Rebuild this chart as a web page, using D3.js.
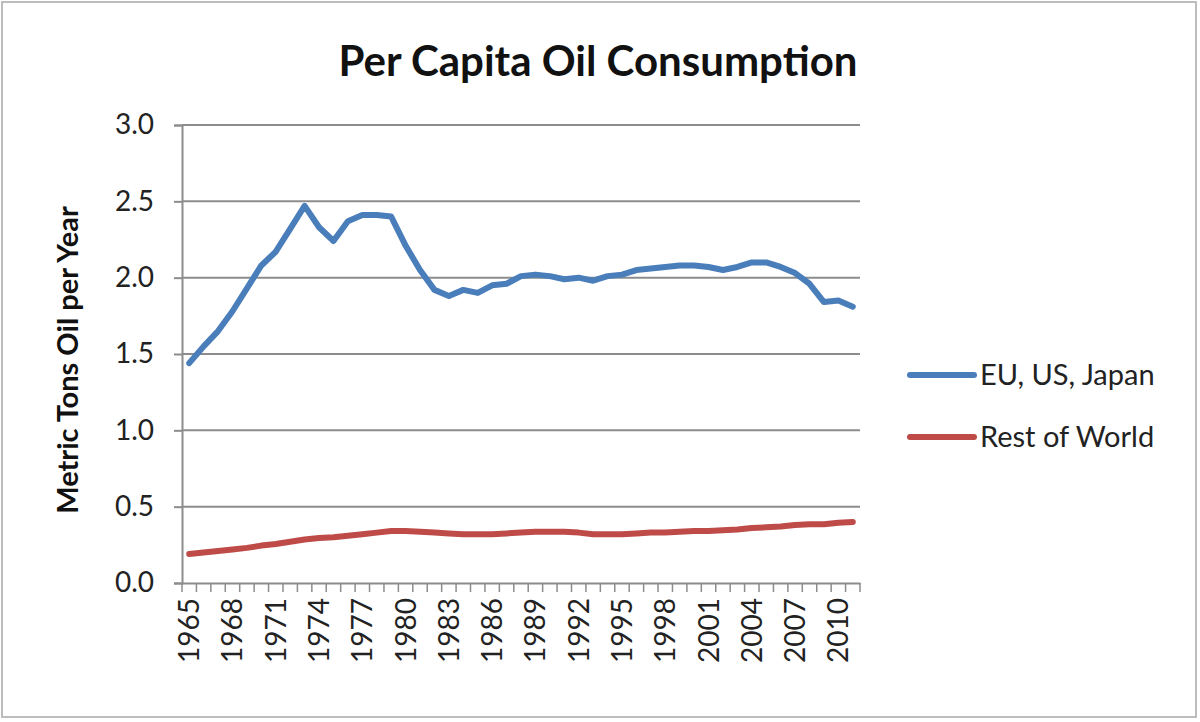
<!DOCTYPE html>
<html>
<head>
<meta charset="utf-8">
<script src="https://cdn.jsdelivr.net/npm/d3@7"></script>
<style>
  body { margin: 0; background: #fff; }
  svg { display: block; }
</style>
</head>
<body>
<svg id="chart" width="1200" height="722"></svg>
<script>
const years = d3.range(1965, 2012)
const euUsJapan = [1.44, 1.55, 1.65, 1.78, 1.93, 2.08, 2.17, 2.32, 2.47, 2.33,
    2.24, 2.37, 2.41, 2.41, 2.40, 2.21, 2.05, 1.92, 1.88, 1.92,
    1.90, 1.95, 1.96, 2.01, 2.02, 2.01, 1.99, 2.00, 1.98, 2.01,
    2.02, 2.05, 2.06, 2.07, 2.08, 2.08, 2.07, 2.05, 2.07, 2.10,
    2.10, 2.07, 2.03, 1.96, 1.84, 1.85, 1.81]
const restOfWorld = [0.19, 0.20, 0.21, 0.22, 0.23, 0.245, 0.255, 0.27, 0.285, 0.295,
    0.30, 0.31, 0.32, 0.33, 0.34, 0.34, 0.335, 0.33, 0.325, 0.32,
    0.32, 0.32, 0.325, 0.33, 0.335, 0.335, 0.335, 0.33, 0.32, 0.32,
    0.32, 0.325, 0.33, 0.33, 0.335, 0.34, 0.34, 0.345, 0.35, 0.36,
    0.365, 0.37, 0.38, 0.385, 0.385, 0.395, 0.40]
const yTicks = [0, 0.5, 1.0, 1.5, 2.0, 2.5, 3.0]
const labelYears = years.filter(y => (y - 1965) % 3 === 0)

const series = [
    { name: "EU, US, Japan", values: euUsJapan, color: "#4a7ebb" },
    { name: "Rest of World", values: restOfWorld, color: "#be4b48" },
]

const svg = d3.select("#chart")
const font = "Lato, 'Open Sans', sans-serif"

// outer frame
svg.append("rect")
    .attr("x", 2).attr("y", 2).attr("width", 1194).attr("height", 715)
    .attr("fill", "none").attr("stroke", "#bdbdbd").attr("stroke-width", 2)

const plotLeft = 182, plotRight = 860, plotTop = 125, plotBottom = 583

const x = d3.scaleBand().domain(years).range([plotLeft, plotRight])
const y = d3.scaleLinear().domain([0, 3]).range([plotBottom, plotTop])

// gridlines
svg.append("g")
    .selectAll("line")
    .data(yTicks.filter(d => d > 0))
    .join("line")
    .attr("x1", plotLeft).attr("x2", plotRight)
    .attr("y1", d => y(d)).attr("y2", d => y(d))
    .attr("stroke", "#8c8c8c").attr("stroke-width", 2)

// y axis
const yAxis = svg.append("g")
    .attr("transform", `translate(${plotLeft},0)`)
    .call(d3.axisLeft(y).tickValues(yTicks).tickFormat(d3.format(".1f")).tickSize(8).tickPadding(20))
yAxis.select(".domain").attr("stroke", "#8c8c8c").attr("stroke-width", 2)
yAxis.selectAll(".tick line").attr("stroke", "#8c8c8c").attr("stroke-width", 2)
yAxis.selectAll("text")
    .attr("font-family", font).attr("font-size", 28).attr("fill", "#222")

// x axis
const xAxis = svg.append("g")
    .attr("transform", `translate(0,${plotBottom})`)
    .call(d3.axisBottom(x).tickValues([]).tickSizeOuter(0))
xAxis.select(".domain").attr("stroke", "#8c8c8c").attr("stroke-width", 2)

// category boundary ticks
svg.append("g")
    .selectAll("line")
    .data(years.concat([null]))
    .join("line")
    .attr("x1", (d, i) => plotLeft + i * x.step())
    .attr("x2", (d, i) => plotLeft + i * x.step())
    .attr("y1", plotBottom).attr("y2", plotBottom + 9)
    .attr("stroke", "#8c8c8c").attr("stroke-width", 1.5)

svg.append("g")
    .selectAll("text")
    .data(labelYears)
    .join("text")
    .attr("transform", d => `translate(${x(d) + x.bandwidth() / 2 + 10},${plotBottom + 15}) rotate(-90)`)
    .attr("text-anchor", "end")
    .attr("font-family", font).attr("font-size", 28).attr("fill", "#222")
    .text(d => d)

// lines
const line = d3.line()
    .x((d, i) => x(years[i]) + x.bandwidth() / 2)
    .y(d => y(d))

svg.append("g")
    .selectAll("path")
    .data(series)
    .join("path")
    .attr("fill", "none")
    .attr("stroke", d => d.color)
    .attr("stroke-width", 6)
    .attr("stroke-linejoin", "round")
    .attr("stroke-linecap", "round")
    .attr("d", d => line(d.values))

// title
svg.append("text")
    .attr("x", 598).attr("y", 76)
    .attr("text-anchor", "middle")
    .attr("font-family", font).attr("font-size", 42).attr("font-weight", "bold")
    .attr("fill", "#111")
    .text("Per Capita Oil Consumption")

// y axis title
svg.append("text")
    .attr("transform", `translate(78,${(plotTop + plotBottom) / 2 + 6}) rotate(-90)`)
    .attr("text-anchor", "middle")
    .attr("font-family", font).attr("font-size", 29).attr("font-weight", "bold")
    .attr("fill", "#111")
    .text("Metric Tons Oil per Year")

// legend
const legend = svg.append("g")
    .selectAll("g")
    .data(series)
    .join("g")
    .attr("transform", (d, i) => `translate(910,${375 + i * 62})`)
legend.append("line")
    .attr("x1", 0).attr("x2", 64)
    .attr("stroke", d => d.color).attr("stroke-width", 6).attr("stroke-linecap", "round")
legend.append("text")
    .attr("x", 70).attr("dy", "0.35em")
    .attr("font-family", font).attr("font-size", 29).attr("fill", "#222")
    .text(d => d.name)
</script>
</body>
</html>
